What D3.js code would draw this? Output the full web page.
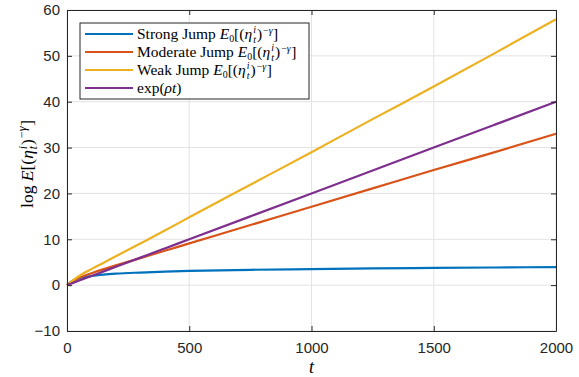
<!DOCTYPE html>
<html>
<head>
<meta charset="utf-8">
<script src="https://cdn.jsdelivr.net/npm/d3@7/dist/d3.min.js"></script>
<style>
  html, body { margin: 0; padding: 0; background: #fff; }
  svg { display: block; }
  svg text { white-space: pre; }
</style>
</head>
<body>
<svg id="chart" width="579" height="377"></svg>
<script>
// Sample times and the log-moment of each jump regime
const times      = [0, 25, 50, 100, 150, 200, 300, 400, 500, 750, 1000, 1250, 1500, 1750, 2000];
const strongJump = [0, 1.0, 1.5, 2.0, 2.3, 2.5, 2.75, 2.95, 3.1, 3.35, 3.5, 3.65, 3.75, 3.85, 3.95];
const moderateJump = [0, 0.9, 1.6, 2.6, 3.5, 4.3, 5.9, 7.5, 9.1, 13.1, 17.1, 21.1, 25.1, 29.0, 33.0];
const weakJump   = [0, 1.1, 2.0, 3.5, 4.9, 6.3, 9.1, 11.9, 14.8, 21.9, 29.0, 36.2, 43.3, 50.6, 58.0];
const expRhoT    = [0, 0.5, 1, 2, 3, 4, 6, 8, 10, 15, 20, 25, 30, 35, 40];

const seriesNames  = ["Strong Jump ", "Moderate Jump ", "Weak Jump ", ""];
const seriesColors = ["#0072BD", "#D95319", "#EDB120", "#7E2F8E"];
const seriesValues = [strongJump, moderateJump, weakJump, expRhoT];

const xTicks = [0, 500, 1000, 1500, 2000];
const yTicks = [-10, 0, 10, 20, 30, 40, 50, 60];

const svg = d3.select("#chart");
const plotLeft = 67, plotRight = 556, plotTop = 10, plotBottom = 331;

const x = d3.scaleLinear().domain([0, 2000]).range([plotLeft, plotRight]);
const y = d3.scaleLinear().domain([-10, 60]).range([plotBottom, plotTop]);

const tickFont = "'Liberation Sans', Arial, sans-serif";
const mathFont = "'Liberation Serif', 'DejaVu Serif', serif";
const axisColor = "#262626";

// grid
const grid = svg.append("g");
grid.selectAll(".gx").data(xTicks).join("line")
  .attr("x1", d => x(d)).attr("x2", d => x(d))
  .attr("y1", plotTop).attr("y2", plotBottom)
  .attr("stroke", "#e3e3e3").attr("stroke-width", 1);
grid.selectAll(".gy").data(yTicks).join("line")
  .attr("y1", d => y(d)).attr("y2", d => y(d))
  .attr("x1", plotLeft).attr("x2", plotRight)
  .attr("stroke", "#e3e3e3").attr("stroke-width", 1);

// series lines
const line = d3.line().x((d, i) => x(times[i])).y(d => y(d)).curve(d3.curveMonotoneX);
seriesValues.forEach((vals, k) => {
  svg.append("path").datum(vals)
    .attr("d", line)
    .attr("fill", "none")
    .attr("stroke", seriesColors[k])
    .attr("stroke-width", 2.2)
    .attr("stroke-linejoin", "round");
});

// axes with inward ticks on all four sides
const tickLen = 5;
const axBottom = d3.axisBottom(x).tickValues(xTicks).tickSizeInner(-tickLen).tickSizeOuter(0).tickPadding(11).tickFormat(d3.format("d"));
const axLeft = d3.axisLeft(y).tickValues(yTicks).tickSizeInner(-tickLen).tickSizeOuter(0).tickPadding(7).tickFormat(d3.format("d"));
const axTop = d3.axisTop(x).tickValues(xTicks).tickSizeInner(-tickLen).tickSizeOuter(0).tickFormat("");
const axRight = d3.axisRight(y).tickValues(yTicks).tickSizeInner(-tickLen).tickSizeOuter(0).tickFormat("");

function styleAxis(g) {
  g.select(".domain").attr("stroke", axisColor);
  g.selectAll(".tick line").attr("stroke", axisColor);
  g.selectAll(".tick text").attr("fill", axisColor)
    .style("font-family", tickFont).style("font-size", "15px");
}
svg.append("g").attr("transform", `translate(0,${plotBottom})`).call(axBottom).call(styleAxis);
svg.append("g").attr("transform", `translate(${plotLeft},0)`).call(axLeft).call(styleAxis);
svg.append("g").attr("transform", `translate(0,${plotTop})`).call(axTop).call(styleAxis);
svg.append("g").attr("transform", `translate(${plotRight},0)`).call(axRight).call(styleAxis);

// measure a run of text in the math font
function measure(str, size, italic) {
  const t = svg.append("text")
    .style("font-family", mathFont).style("font-size", size + "px")
    .style("font-style", italic ? "italic" : "normal").text(str);
  const w = t.node().getComputedTextLength();
  t.remove();
  return w;
}

// lays out math pieces left-to-right as tspans of one text element
function mathRow(g, x0, y0, size, pieces) {
  const text = g.append("text").attr("fill", "#000").style("font-family", mathFont);
  let cx = x0;
  const put = (s, px) => {
    const fs = size * (s.scale || 1);
    text.append("tspan").attr("x", px).attr("y", y0 + (s.dy || 0))
      .style("font-size", fs + "px")
      .style("font-style", s.italic ? "italic" : "normal")
      .text(s.t);
    return measure(s.t, fs, s.italic);
  };
  pieces.forEach(p => {
    if (p.stack) {
      let w = 0;
      p.stack.forEach(s => { w = Math.max(w, put(s, cx)); });
      cx += w + (p.pad || 0);
    } else {
      cx += put(p, cx) + (p.pad || 0);
    }
  });
  return cx - x0;
}

// pieces of E0[(eta_t^i)^(-gamma)]
function momentPieces(prefix, small) {
  return [
    { t: prefix },
    { t: "E", italic: true },
    { t: "0", scale: small, dy: 3 },
    { t: "[(" },
    { t: "η", italic: true, pad: 1 },
    { stack: [ { t: "i", italic: true, scale: small, dy: -6 }, { t: "t", italic: true, scale: small, dy: 3.5 } ], pad: 1 },
    { t: ")", pad: 1 },
    { t: "−", scale: small, dy: -5.5 },
    { t: "γ", italic: true, scale: small, dy: -5.5, pad: 0.5 },
    { t: "]" }
  ];
}

// legend
const legend = svg.append("g");
const lgX = 80, lgY = 23, lgW = 229, lgH = 76;
legend.append("rect").attr("x", lgX).attr("y", lgY).attr("width", lgW).attr("height", lgH)
  .attr("fill", "#fff").attr("stroke", "#262626").attr("stroke-width", 1);
const rowYs = [34, 52, 70, 88];
seriesColors.forEach((c, k) => {
  legend.append("line").attr("x1", 85).attr("x2", 133)
    .attr("y1", rowYs[k]).attr("y2", rowYs[k])
    .attr("stroke", c).attr("stroke-width", 2.2);
  if (k < 3) {
    mathRow(legend, 137, rowYs[k] + 5, 15.5, momentPieces(seriesNames[k], 0.64));
  } else {
    mathRow(legend, 137, rowYs[k] + 5, 15.5, [
      { t: "exp(" }, { t: "ρt", italic: true }, { t: ")" }
    ]);
  }
});

// y-axis title, rotated and centred on the plot
const yTitle = svg.append("g");
const yTitleW = mathRow(yTitle, 0, 0, 17.5, [
  { t: "log " },
  { t: "E", italic: true },
  { t: "[(" },
  { t: "η", italic: true, pad: 1 },
  { stack: [ { t: "i", italic: true, scale: 0.66, dy: -6.5 }, { t: "t", italic: true, scale: 0.66, dy: 4 } ], pad: 1 },
  { t: ")", pad: 1 },
  { t: "−", scale: 0.7, dy: -7 },
  { t: "γ", italic: true, scale: 0.7, dy: -7, pad: 0.5 },
  { t: "]" }
]);
yTitle.attr("transform", `translate(33,${164 + yTitleW / 2}) rotate(-90)`);

// x-axis title
svg.append("text").attr("x", x(1000)).attr("y", 373).attr("text-anchor", "middle")
  .style("font-family", mathFont).style("font-size", "18px").style("font-style", "italic")
  .text("t");
</script>
</body>
</html>
